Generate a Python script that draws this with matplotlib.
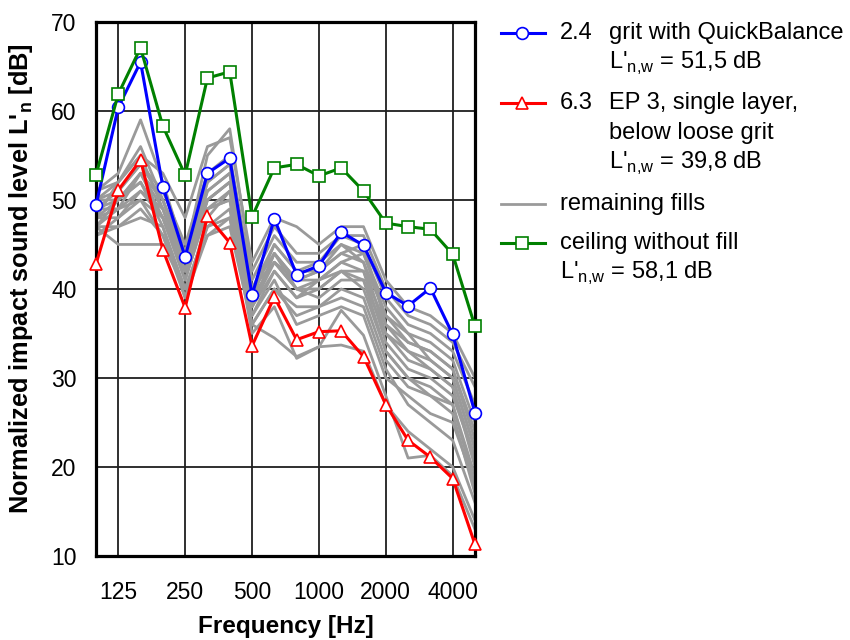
import numpy as np
import matplotlib
matplotlib.use("Agg")
import matplotlib.pyplot as plt

plt.rcParams["font.family"] = ["Liberation Sans", "DejaVu Sans"]

# third-octave bands 100 .. 5000 Hz
bands = [100, 125, 160, 200, 250, 315, 400, 500, 630, 800, 1000,
         1250, 1600, 2000, 2500, 3150, 4000, 5000]
tick_bands = [125, 250, 500, 1000, 2000, 4000]

grit_qb = [49.4, 60.4, 65.5, 51.5, 43.6, 53.0, 54.7, 39.3, 47.9, 41.6, 42.6,
           46.4, 44.9, 39.6, 38.1, 40.1, 34.9, 26.1]
ep3 = [42.8, 51.1, 54.5, 44.4, 37.9, 48.2, 45.2, 33.6, 39.1, 34.3, 35.2,
       35.3, 32.4, 27.0, 23.0, 21.1, 18.7, 11.3]
ceiling = [52.8, 61.9, 67.1, 58.3, 52.8, 63.7, 64.4, 48.1, 53.6, 54.0, 52.7,
           53.6, 51.0, 47.4, 47.0, 46.7, 43.9, 35.8]

# remaining fills (read approximately from the band of grey curves)
fills = [
    [48, 50, 52, 48, 41, 49, 50, 38, 44, 40, 41, 43, 42, 36, 33, 32, 30, 22],
    [50, 52, 56, 50, 43, 52, 54, 40, 45, 42, 43, 45, 44, 38, 35, 34, 32, 25],
    [47, 49, 53, 49, 42, 50, 52, 39, 43, 41, 42, 44, 43, 35, 32, 31, 29, 20],
    [46, 47, 48, 47, 40, 47, 48, 37, 42, 39, 40, 42, 41, 33, 30, 29, 27, 18],
    [51, 53, 59, 52, 44, 55, 58, 42, 47, 44, 44, 46, 46, 40, 37, 36, 34, 29],
    [49, 51, 54, 51, 45, 53, 55, 41, 46, 43, 43, 46, 45, 39, 36, 35, 33, 27],
    [48, 48, 51, 49, 43, 51, 53, 38, 44, 41, 41, 43, 44, 37, 34, 33, 31, 23],
    [47, 45, 45, 45, 40, 46, 47, 36, 40, 38, 38, 40, 39, 32, 29, 28, 26, 17],
    [50, 50, 52, 47, 39, 48, 51, 37, 41, 36, 37, 38, 37, 30, 28, 26, 25, 18],
    [48, 52, 55, 53, 48, 56, 57, 43, 48, 47, 45, 47, 47, 41, 38, 37, 35, 30],
    [46, 48, 50, 46, 40, 47, 49, 35, 38, 32.2, 33.5, 33.7, 33, 27, 24, 22, 20, 14],
    [49, 49, 50, 48, 41, 49, 50, 36, 34.5, 32.4, 33.5, 37.6, 34.8, 28, 21, 21.3, 19, 13],
    [47, 50, 53, 48, 42, 50, 52, 40, 43, 40, 40, 42, 42, 34, 31, 30, 28, 21],
    [50, 51, 54, 50, 44, 52, 54, 39, 45, 42, 42, 44, 45, 36, 34, 33, 31, 24],
    [48, 49, 51, 48, 42, 49, 51, 38, 42, 39, 41, 42, 40, 33, 30, 28, 27, 19],
    [49, 50, 53, 50, 43, 51, 53, 40, 44, 41, 42, 45, 43, 37, 35, 32, 30, 22],
    [51, 52, 55, 49, 42, 50, 52, 38, 43, 40, 39, 41, 41, 35, 33, 31, 29, 21],
    [47, 47, 49, 46, 39, 46, 48, 36, 40, 37, 38, 39, 38, 31, 27, 25, 23, 16],
]

FS = 17
fig = plt.figure(figsize=(8.5, 6.4), dpi=100)
ax = fig.add_axes([0.1129, 0.1313, 0.4459, 0.8344])

x = np.arange(len(bands))
for f in fills:
    ax.plot(x, f, color="#9a9a9a", lw=2.0, zorder=2)

mk = dict(markerfacecolor="white", markersize=8.5, markeredgewidth=1.2, clip_on=False)
ax.plot(x, ep3, color="red", lw=2.2, marker="^", zorder=3, **mk)
ax.plot(x, grit_qb, color="blue", lw=2.2, marker="o", zorder=4, **mk)
ax.plot(x, ceiling, color="green", lw=2.2, marker="s", zorder=5, **mk)

ax.set_xlim(0, len(bands) - 1)
ax.set_ylim(10, 70)
ax.set_xticks([bands.index(b) for b in tick_bands])
ax.set_xticklabels([str(b) for b in tick_bands])
ax.set_yticks(range(10, 71, 10))
ax.tick_params(axis="both", length=0, labelsize=16.5)
ax.tick_params(axis="x", pad=18)
ax.tick_params(axis="y", pad=14)
ax.grid(True, color="0.12", lw=1.3)
ax.set_axisbelow(True)
for s in ax.spines.values():
    s.set_linewidth(2.3)

ax.set_xlabel("Frequency [Hz]", fontsize=17.5, fontweight="bold")
ax.set_ylabel("Normalized impact sound level L'$_\\mathregular{n}$ [dB]",
              fontsize=18.3, fontweight="bold")
ax.xaxis.set_label_coords(0.5, -0.11)
ax.yaxis.set_label_coords(-0.16, 0.52)

# hand-built legend to the right (pixel coordinates of the figure)
lax = fig.add_axes([0, 0, 1, 1])
lax.set_xlim(0, 850)
lax.set_ylim(640, 0)
lax.axis("off")

lnw = "L'$_\\mathregular{n{,}w}$"
entries = [
    (33, "blue", "o", "2.4", ["grit with QuickBalance", lnw + " = 51,5 dB"]),
    (103, "red", "^", "6.3", ["EP 3, single layer,", "below loose grit",
                              lnw + " = 39,8 dB"]),
    (204, "#9a9a9a", None, None, ["remaining fills"]),
    (243, "green", "s", None, ["ceiling without fill", lnw + " = 58,1 dB"]),
]
for y, col, m, num, lines in entries:
    lax.plot([501, 545], [y, y], color=col, lw=2.2 if m else 2.0)
    if m:
        lax.plot([522], [y], color=col, marker=m, ls="none", **mk)
    tx = 560
    if num:
        lax.text(560, y, num, fontsize=FS, va="center", ha="left")
        tx = 609
    for i, t in enumerate(lines):
        lax.text(tx, y + 30 * i, t, fontsize=FS, va="center", ha="left")

fig.savefig("out.png", dpi=100)
